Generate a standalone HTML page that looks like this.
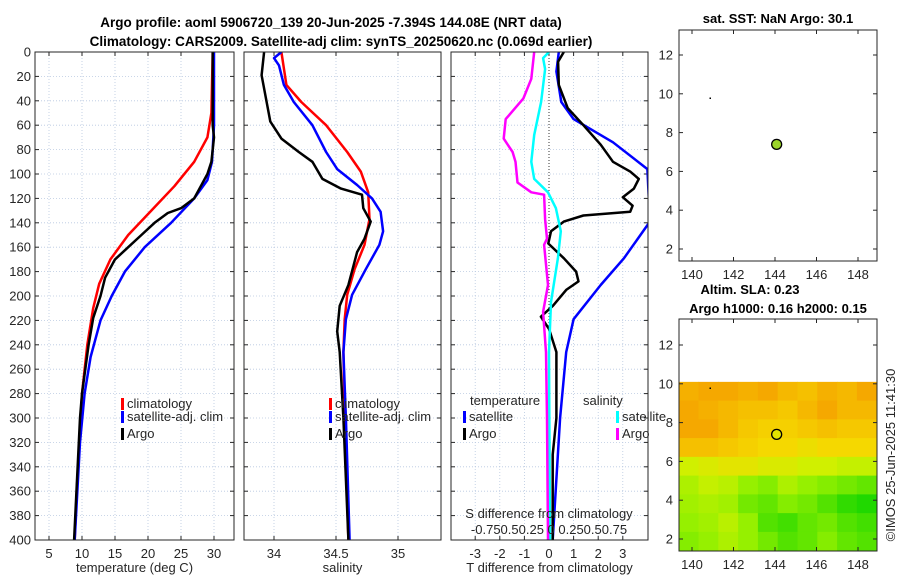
<!DOCTYPE html>
<html><head><meta charset="utf-8"><style>
body{margin:0;background:#fff;}
svg{font-family:"Liberation Sans",sans-serif;display:block}
</style></head><body>
<svg id="c" width="900" height="580" viewBox="0 0 900 580"></svg>
<script>
// ---- data ----
const depthTicks=[0,20,40,60,80,100,120,140,160,180,200,220,240,260,280,300,320,340,360,380,400];
const tempTicks=[5,10,15,20,25,30];
const salTicks=[34,34.5,35];
const diffTicks=[-3,-2,-1,0,1,2,3];
const tempClimD=[0,50,70,90,110,130,150,170,190,210,240,280,320,360,400];
const tempClimV=[29.8,29.6,29,27,24,20.5,17,14.3,12.6,11.7,10.8,10,9.6,9.2,8.9];
const tempSatD=[0,60,90,105,120,140,160,180,200,220,250,280,320,400];
const tempSatV=[30,30,29.7,29,27,23.5,19.5,16.5,14.5,12.8,11.3,10.4,9.7,8.9];
const tempArgoD=[0,60,70,90,100,110,120,128,132,140,150,160,170,185,200,218,240,260,280,300,400];
const tempArgoV=[29.8,29.8,30,29.6,29,28,27,25,23,21,19,17,15,13.5,12.8,11.7,11,10.5,10,9.7,8.8];
const salClimD=[0,27,41,60,82,98,115,137,158,178,199,219,246,300,400];
const salClimV=[34.06,34.1,34.22,34.42,34.59,34.7,34.76,34.77,34.73,34.65,34.59,34.57,34.56,34.57,34.6];
const salSatD=[0,5,11,27,41,60,82,96,109,120,131,147,158,178,199,219,246,300,400];
const salSatV=[34.06,34.0,34.04,34.08,34.16,34.31,34.42,34.51,34.67,34.79,34.86,34.88,34.85,34.74,34.63,34.58,34.56,34.58,34.61];
const salArgoD=[0,19,57,71,82,90,104,112,117,128,139,153,164,191,208,229,246,300,400];
const salArgoV=[33.92,33.9,33.97,34.06,34.2,34.31,34.39,34.54,34.71,34.72,34.78,34.73,34.67,34.6,34.53,34.51,34.53,34.56,34.6];
const tdSatD=[0,16,41,55,74,96,139,169,191,219,246,300,400];
const tdSatV=[0.4,0.3,0.5,1.0,2.6,4.0,4.1,3.05,2.1,1.0,0.7,0.45,0.15];
const tdArgoD=[0,8,27,46,60,76,90,98,104,112,119,126,131,134,139,147,157,169,180,188,195,208,217,227,246,300,330,400];
const tdArgoV=[0.6,0.37,0.4,0.76,1.4,2.1,2.6,3.3,3.65,3.45,3.0,3.4,3.3,1.4,0.6,0.08,-0.03,0.6,1.1,1.2,0.7,0.16,-0.33,0,0.3,0.3,0.15,0.15];
const sdSatD=[0,5,14,41,68,90,104,115,128,147,169,205,246,400];
const sdSatV=[0,-0.06,-0.04,-0.08,-0.15,-0.18,-0.15,-0.01,0.07,0.12,0.09,0.02,0,0.01];
const sdArgoD=[0,22,38,55,71,82,90,107,115,117,137,153,158,191,213,246,300,400];
const sdArgoV=[-0.15,-0.18,-0.26,-0.44,-0.46,-0.37,-0.34,-0.32,-0.18,-0.05,-0.04,-0.02,-0.05,-0.01,-0.06,-0.03,-0.02,-0.01];
const mapLonTicks=[140,142,144,146,148];
const mapLatTicks=[2,4,6,8,10,12];
const argoLon=144.08, argoLat=7.394;
const slaGrid=[
[0.26,0.27,0.28,0.26,0.27,0.25,0.24,0.26,0.25,0.27],
[0.27,0.26,0.25,0.24,0.24,0.23,0.25,0.27,0.25,0.25],
[0.28,0.28,0.25,0.23,0.22,0.22,0.23,0.24,0.23,0.23],
[0.24,0.24,0.23,0.22,0.21,0.21,0.20,0.21,0.21,0.21],
[0.17,0.18,0.19,0.19,0.18,0.18,0.17,0.17,0.16,0.16],
[0.14,0.16,0.15,0.12,0.11,0.14,0.12,0.11,0.10,0.09],
[0.13,0.14,0.13,0.10,0.09,0.11,0.10,0.08,0.06,0.05],
[0.12,0.13,0.15,0.12,0.08,0.07,0.09,0.10,0.08,0.07],
[0.11,0.12,0.14,0.12,0.10,0.08,0.09,0.11,0.09,0.08]];
const argoSLA=0.19;

const NS="http://www.w3.org/2000/svg";
const svg=document.getElementById('c');
function el(tag,attrs,parent){const e=document.createElementNS(NS,tag);for(const k in attrs)e.setAttribute(k,attrs[k]);(parent||svg).appendChild(e);return e;}
function txt(s,x,y,opt,name){const t=el('text',Object.assign({x:x,y:y,'font-size':13,fill:'#262626'},opt||{}));t.textContent=s;


return t;}

const Y0=52,Y1=540;
const yD=d=>Y0+(Y1-Y0)*d/400;
const P1={x0:35,x1:234}, P2={x0:244,x1:441}, P3={x0:451,x1:648};
const xT=v=>49+(v-5)*6.6;
const xS=v=>274+(v-34)*124;
const xTD=v=>549+v*24.6;
const xSD=v=>549+v*98.4;

function panel(P,xt,xf,labels,name,xlabel){
  const g=el('g',{});
  
  
  el('defs',{},g).innerHTML=`<clipPath id="cl-${name}"><rect x="${P.x0}" y="${Y0}" width="${P.x1-P.x0}" height="${Y1-Y0}"/></clipPath>`;
  el('rect',{x:P.x0,y:Y0,width:P.x1-P.x0,height:Y1-Y0,fill:'#fff'},g);
  depthTicks.forEach(d=>{el('line',{x1:P.x0,x2:P.x1,y1:yD(d),y2:yD(d),stroke:'#b8c8e0','stroke-width':0.8,'stroke-dasharray':'1,2'},g);
    el('line',{x1:P.x0,x2:P.x0+4,y1:yD(d),y2:yD(d),stroke:'#262626'},g);
    el('line',{x1:P.x1,x2:P.x1-4,y1:yD(d),y2:yD(d),stroke:'#262626'},g);
    if(labels) txt(String(d),P.x0-4,yD(d)+4.5,{'text-anchor':'end'},'depth-tick-label');});
  xt.forEach(v=>{const x=xf(v);el('line',{x1:x,x2:x,y1:Y0,y2:Y1,stroke:'#b8c8e0','stroke-width':0.8,'stroke-dasharray':'1,2'},g);
    el('line',{x1:x,x2:x,y1:Y1,y2:Y1-4,stroke:'#262626'},g);el('line',{x1:x,x2:x,y1:Y0,y2:Y0+4,stroke:'#262626'},g);
    txt(String(v),x,Y1+18,{'text-anchor':'middle'},'x-tick-label');});
  txt(xlabel,(P.x0+P.x1)/2,572,{'text-anchor':'middle'},'x-axis-title');
  return g;
}
function curve(P,name,D,V,xf,color,w){
  const pts=D.map((d,i)=>xf(V[i]).toFixed(1)+','+yD(d).toFixed(1)).join(' ');
  const p=el('polyline',{points:pts,fill:'none',stroke:color,'stroke-width':w,'stroke-linejoin':'round','clip-path':`url(#cl-${name})`});
  
  
}
function frame(P){el('rect',{x:P.x0,y:Y0,width:P.x1-P.x0,height:Y1-Y0,fill:'none',stroke:'#262626','stroke-width':1});}
function legItem(x,y,color,label,name){
  el('rect',{x:x,y:y-10,width:3,height:12,fill:color});
  txt(label,x+6,y,{},name);
}

// panel 1
panel(P1,tempTicks,xT,true,'temperature-panel','temperature (deg C)');
curve(P1,'temperature-panel',tempClimD,tempClimV,xT,'#ff0000',2.5);
curve(P1,'temperature-panel',tempSatD,tempSatV,xT,'#0000ff',2.5);
curve(P1,'temperature-panel',tempArgoD,tempArgoV,xT,'#000',2.5);
frame(P1);
legItem(121,408,'#ff0000','climatology','legend-climatology');
legItem(121,421,'#0000ff','satellite-adj. clim','legend-satellite');
legItem(121,438,'#000','Argo','legend-argo');

// panel 2
panel(P2,salTicks,xS,false,'salinity-panel','salinity');
curve(P2,'salinity-panel',salClimD,salClimV,xS,'#ff0000',2.5);
curve(P2,'salinity-panel',salSatD,salSatV,xS,'#0000ff',2.5);
curve(P2,'salinity-panel',salArgoD,salArgoV,xS,'#000',2.5);
frame(P2);
legItem(329,408,'#ff0000','climatology','legend-climatology');
legItem(329,421,'#0000ff','satellite-adj. clim','legend-satellite');
legItem(329,438,'#000','Argo','legend-argo');

// panel 3
panel(P3,diffTicks,xTD,false,'difference-panel','T difference from climatology');
el('line',{x1:549,x2:549,y1:Y0,y2:Y1,stroke:'#333','stroke-width':1,'stroke-dasharray':'1,2'});
curve(P3,'difference-panel',tdSatD,tdSatV,xTD,'#0000ff',2.5);
curve(P3,'difference-panel',tdArgoD,tdArgoV,xTD,'#000',2.5);
curve(P3,'difference-panel',sdSatD,sdSatV,xSD,'#00ffff',2.5);
curve(P3,'difference-panel',sdArgoD,sdArgoV,xSD,'#ff00ff',2.5);
frame(P3);
txt('temperature',470,405,{},'legend-temperature-title');
legItem(463,421,'#0000ff','satellite','legend-t-satellite');
legItem(463,438,'#000','Argo','legend-t-argo');
txt('salinity',583,405,{},'legend-salinity-title');
legItem(616,421,'#00ffff','satellite','legend-s-satellite');
legItem(616,438,'#ff00ff','Argo','legend-s-argo');
txt('S difference from climatology',549,518,{'text-anchor':'middle'},'s-axis-title');
txt('-0.750.50.25 0 0.250.50.75',549,534,{'text-anchor':'middle'},'s-axis-tick-labels');

// titles
txt('Argo profile: aoml 5906720_139 20-Jun-2025 -7.394S 144.08E (NRT data)',331,27,{'text-anchor':'middle','font-weight':'bold','font-size':13.5,fill:'#000'},'title-line-1');
txt('Climatology: CARS2009. Satellite-adj clim: synTS_20250620.nc (0.069d earlier)',341,46,{'text-anchor':'middle','font-weight':'bold','font-size':13.5,fill:'#000'},'title-line-2');

// maps
const M={x0:679,x1:877};
const xL=lon=>692+(lon-140)*20.75;
function mapAxes(yTop,yBot,yLat,name){
  const g=el('g',{});
  
  
  mapLatTicks.forEach(v=>{const y=yLat(v);el('line',{x1:M.x0,x2:M.x0+4,y1:y,y2:y,stroke:'#262626'},g);el('line',{x1:M.x1,x2:M.x1-4,y1:y,y2:y,stroke:'#262626'},g);
    txt(String(v),M.x0-6,y+4.5,{'text-anchor':'end'},'lat-tick-label');});
  mapLonTicks.forEach(v=>{const x=xL(v);el('line',{x1:x,x2:x,y1:yBot,y2:yBot-4,stroke:'#262626'},g);el('line',{x1:x,x2:x,y1:yTop,y2:yTop+4,stroke:'#262626'},g);
    txt(String(v),x,yBot+18,{'text-anchor':'middle'},'lon-tick-label');});
  el('rect',{x:M.x0,y:yTop,width:M.x1-M.x0,height:yBot-yTop,fill:'none',stroke:'#262626'},g);
}
// SST map
const yA=lat=>249-(lat-2)*19.4;
el('rect',{x:M.x0,y:30,width:M.x1-M.x0,height:231,fill:'#fff'});
el('rect',{x:709.5,y:97.5,width:1.5,height:1.5,fill:'#000'});
const c1=el('circle',{cx:xL(argoLon),cy:yA(argoLat),r:5,fill:'#9bd42a',stroke:'#000','stroke-width':1.3});


mapAxes(30,261,yA,'sst-map');
txt('sat. SST: NaN Argo: 30.1',778,23,{'text-anchor':'middle','font-weight':'bold',fill:'#000'},'sst-map-title');

// SLA map
const yB=lat=>539-(lat-2)*19.4;
const stops=[[0.05,[32,216,0]],[0.12,[150,240,0]],[0.17,[208,240,0]],[0.21,[245,216,0]],[0.27,[245,168,0]]];
function cmap(v){if(v<=stops[0][0])return stops[0][1];for(let i=1;i<stops.length;i++){if(v<=stops[i][0]){const a=stops[i-1],b=stops[i],t=(v-a[0])/(b[0]-a[0]);return a[1].map((c,k)=>Math.round(c+(b[1][k]-c)*t));}}return stops[stops.length-1][1];}
const latTop=10.1, latBot=1.4, lonL=139.36, lonR=148.9;
const nr=slaGrid.length, nc=slaGrid[0].length;
el('defs',{}).innerHTML='<clipPath id="cl-sla"><rect x="679" y="319" width="198" height="232"/></clipPath>';
const hm=el('g',{'clip-path':'url(#cl-sla)'});


slaGrid.forEach((row,i)=>row.forEach((v,j)=>{
  const la0=latTop-(latTop-latBot)*i/nr, la1=latTop-(latTop-latBot)*(i+1)/nr;
  const lo0=lonL+(lonR-lonL)*j/nc, lo1=lonL+(lonR-lonL)*(j+1)/nc;
  const c=cmap(v);
  const r=el('rect',{x:xL(lo0),y:yB(la0),width:xL(lo1)-xL(lo0)+0.5,height:yB(la1)-yB(la0)+0.5,fill:`rgb(${c})`},hm);
  
  
}));
el('rect',{x:709.5,y:387.5,width:1.5,height:1.5,fill:'#000'});
const cc=cmap(argoSLA);
const c2=el('circle',{cx:xL(argoLon),cy:yB(argoLat),r:5,fill:`rgb(${cc})`,stroke:'#000','stroke-width':1.3});


mapAxes(319,551,yB,'sla-map');
txt('Altim. SLA: 0.23',750,294,{'text-anchor':'middle','font-weight':'bold',fill:'#000'},'sla-map-title-1');
txt('Argo h1000: 0.16 h2000: 0.15',778,313,{'text-anchor':'middle','font-weight':'bold',fill:'#000'},'sla-map-title-2');
txt('©IMOS 25-Jun-2025 11:41:30',0,0,{'text-anchor':'middle',transform:'translate(895,455) rotate(-90)'},'copyright-stamp');
</script>
</body></html>
